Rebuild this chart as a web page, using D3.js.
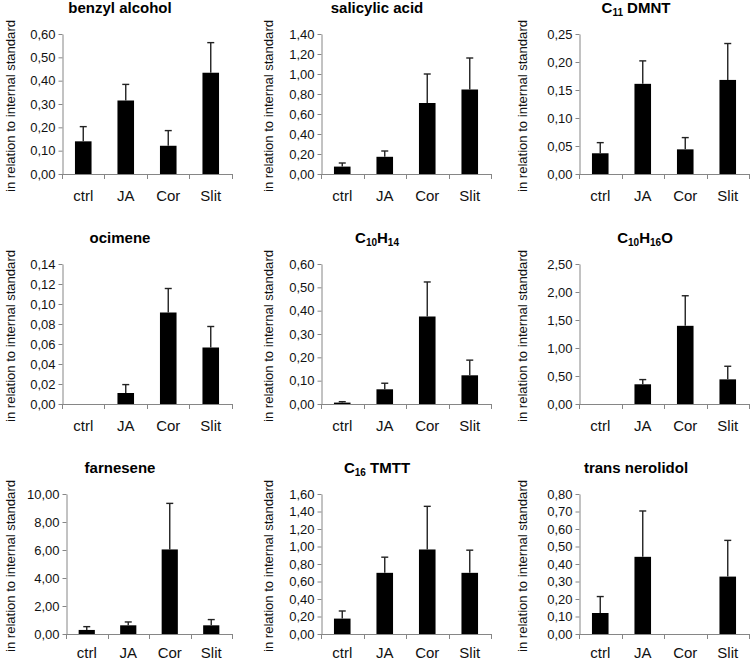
<!DOCTYPE html>
<html>
<head>
<meta charset="utf-8">
<script src="https://cdn.jsdelivr.net/npm/d3@7"></script>
<style>
  html, body { margin: 0; padding: 0; background: #fff; }
  svg { display: block; font-family: Arial, "Liberation Sans", sans-serif; }
</style>
</head>
<body>
<svg id="chart" width="751" height="662"></svg>
<script>
// ---------- data ----------
const categories = ["ctrl", "JA", "Cor", "Slit"];
// titles: [main, subscript, rest, subscript2, rest2]
const titles = [
  ["benzyl alcohol"],
  ["salicylic acid"],
  ["C", "11", " DMNT"],
  ["ocimene"],
  ["C", "10", "H", "14", ""],
  ["C", "10", "H", "16", "O"],
  ["farnesene"],
  ["C", "16", " TMTT"],
  ["trans nerolidol"]
];
const meanValues = [
  [0.140, 0.315, 0.121, 0.434],
  [0.074, 0.172, 0.710, 0.845],
  [0.037, 0.161, 0.044, 0.168],
  [0.000, 0.011, 0.0915, 0.0565],
  [0.006, 0.063, 0.375, 0.123],
  [0.000, 0.352, 1.396, 0.440],
  [0.29, 0.62, 6.04, 0.62],
  [0.176, 0.699, 0.966, 0.699],
  [0.120, 0.441, 0.000, 0.328]
];
const errorValues = [
  [0.063, 0.069, 0.065, 0.129],
  [0.036, 0.058, 0.290, 0.315],
  [0.019, 0.041, 0.021, 0.065],
  [0.000, 0.0084, 0.024, 0.021],
  [0.004, 0.026, 0.148, 0.065],
  [0.000, 0.084, 0.537, 0.234],
  [0.235, 0.24, 3.29, 0.41],
  [0.087, 0.179, 0.493, 0.259],
  [0.094, 0.262, 0.000, 0.207]
];
const yMaxValues = [0.60, 1.40, 0.25, 0.14, 0.60, 2.50, 10.00, 1.60, 0.80];
const yStepValues = [0.10, 0.20, 0.05, 0.02, 0.10, 0.50, 2.00, 0.20, 0.10];
const yAxisLabel = "in relation to internal standard";

// ---------- layout ----------
const colAxisX = [62, 321, 579];
const colLabelX = [10, 268, 522];
const colTitleX = [120, 377, 636];
const rowTop = [34, 264, 494];
const rowZero = [174, 404, 634];
const rowLabelDy = [27, 27, 24];
const plotW = 170;

const svg = d3.select("#chart");
const fmt = v => d3.format(".2f")(v).replace(".", ",");
const axisColor = "#868686";

titles.forEach((title, i) => {
  const row = Math.floor(i / 3), col = i % 3;
  let x0 = colAxisX[col], w = plotW;
  if (i === 6) { x0 = 66; w = 166; }
  const top = rowTop[row], zero = rowZero[row];

  const x = d3.scaleBand().domain(categories).range([x0, x0 + w])
    .paddingInner(0.61).paddingOuter(0.305);
  const y = d3.scaleLinear().domain([0, yMaxValues[i]]).range([zero, top]);
  const ticks = d3.range(0, Math.round(yMaxValues[i] / yStepValues[i]) + 1).map(k => k * yStepValues[i]);

  const g = svg.append("g");

  // bars
  g.selectAll("rect.bar").data(categories).enter().append("rect")
    .attr("x", c => x(c))
    .attr("width", x.bandwidth())
    .attr("y", (c, j) => y(meanValues[i][j]))
    .attr("height", (c, j) => zero - y(meanValues[i][j]))
    .attr("fill", "#000");

  // error bars
  categories.forEach((c, j) => {
    const m = meanValues[i][j], e = errorValues[i][j];
    if (e <= 0) return;
    const cx = x(c) + x.bandwidth() / 2;
    g.append("line").attr("x1", cx).attr("x2", cx)
      .attr("y1", y(m)).attr("y2", y(m + e))
      .attr("stroke", "#222").attr("stroke-width", 1.4);
    g.append("line").attr("x1", cx - 3.5).attr("x2", cx + 3.5)
      .attr("y1", y(m + e)).attr("y2", y(m + e))
      .attr("stroke", "#222").attr("stroke-width", 1.4);
  });

  // y axis
  const ya = g.append("g").attr("transform", `translate(${x0 + 0.5},0)`)
    .call(d3.axisLeft(y).tickValues(ticks).tickFormat(fmt).tickSize(4).tickSizeOuter(0).tickPadding(3));
  ya.select(".domain").attr("stroke", axisColor);
  ya.selectAll(".tick line").attr("stroke", axisColor);
  ya.selectAll(".tick text").attr("font-size", 13).attr("fill", "#111")
    .attr("font-family", "Arial, 'Liberation Sans', sans-serif");

  // x axis
  g.append("line").attr("x1", x0).attr("x2", x0 + w)
    .attr("y1", zero + 0.5).attr("y2", zero + 0.5).attr("stroke", axisColor);
  const boundaries = categories.map(c => x(c) - x.step() * x.paddingInner() / 2).concat([x0 + w]);
  g.selectAll("line.xt").data(boundaries).enter().append("line")
    .attr("x1", d => Math.round(d) + 0.5).attr("x2", d => Math.round(d) + 0.5)
    .attr("y1", zero).attr("y2", zero + 5).attr("stroke", axisColor);
  g.selectAll("text.xl").data(categories).enter().append("text")
    .attr("x", c => x(c) + x.bandwidth() / 2)
    .attr("y", zero + rowLabelDy[row])
    .attr("text-anchor", "middle")
    .attr("font-size", 15).attr("fill", "#111")
    .text(c => c);

  // y label
  const lx = colLabelX[col], ly = (top + zero) / 2 + 2;
  g.append("text")
    .attr("transform", `translate(${lx + 5},${ly}) rotate(-90)`)
    .attr("text-anchor", "middle")
    .attr("font-size", 13).attr("fill", "#111")
    .attr("textLength", 172).attr("lengthAdjust", "spacingAndGlyphs")
    .text(yAxisLabel);

  // title
  let tx = colTitleX[col];
  if (i === 5) tx = 645;
  const t = g.append("text").attr("x", tx).attr("y", top - 21)
    .attr("text-anchor", "middle").attr("font-size", 15).attr("font-weight", "bold").attr("fill", "#000");
  title.forEach((part, k) => {
    const isSub = k % 2 === 1;
    const ts = t.append("tspan").text(part);
    if (isSub) ts.attr("font-size", 10).attr("dy", 3);
    else if (k > 0) ts.attr("dy", -3);
  });
});
</script>
</body>
</html>
